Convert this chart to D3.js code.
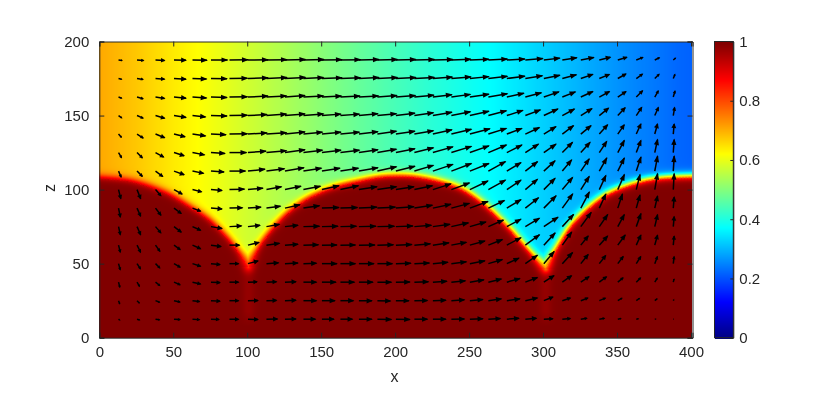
<!DOCTYPE html>
<html><head><meta charset="utf-8">
<script src="https://cdnjs.cloudflare.com/ajax/libs/d3/7.8.5/d3.min.js"></script>
<style>
html,body{margin:0;padding:0;background:#fff;width:830px;height:394px;overflow:hidden}
#wrap{position:relative;width:830px;height:394px}
canvas{position:absolute}
svg{position:absolute;left:0;top:0}
text{font-family:"Liberation Sans",Arial,sans-serif;fill:#262626}
</style></head><body><div id="wrap"></div>
<script>
// ---- data ----
const xTicks=[0,50,100,150,200,250,300,350,400];
const zTicks=[0,50,100,150,200];
const barTicks=[0,0.2,0.4,0.6,0.8,1];
const jetStops=[0,0.125,0.375,0.625,0.875,1];
const jetColors=["#000080","#0000ff","#00ffff","#ffff00","#ff0000","#800000"];
// background value of the upper region, by x
const gasX=[0,25,50,75,100,136,175,200,225,264,300,325,350,392,401];
const gasV=[0.71,0.68,0.645,0.615,0.58,0.53,0.475,0.445,0.415,0.375,0.33,0.30,0.27,0.225,0.22];
// interface arcs (red contour) between the two cusps
const arcA=[[0,107.6],[22,105.3],[45,97.5],[60.6,88.5],[74,79.5],[85.5,68.2],[94.5,57.2],[101,48]];
const arcB=[[101,48],[111,64.8],[120,76],[129,85],[140,93],[151.5,98.6],[162.7,102.5],[174,105.2],[190,108.3],[203,109],[214.6,108.3],[230,105.3],[244,100.5],[257.4,91.8],[268.7,81.7],[277.7,72.7],[286.5,62.6],[295.7,52.5],[302,47]];
const arcC=[[302,47],[309,59],[320,76],[332,88],[343,96],[356.6,102],[370,105.8],[383.6,107.6],[401,108.3]];
const cusps=[[101,48],[302,47]];
// quiver grid
const colX=[13,25.5,38,50.5,63,75.5,88,100.5,113,125.5,138,150.5,163,175.5,188,200.5,213,225.5,238,250.5,263,275.5,288,300.5,313,325.5,338,350.5,363,375.5,388];
const rowZ=[187.5,175,162.5,150,137.5,125,112.5,100,87.5,75,62.5,50,37.5,25,12.5];
const u0=[4.5,7.5,10,13,15.5,17.5,19.5,21,21.5,21.5,21.5,21,21,21,21,21,21,21,20.5,20,20,19,18.5,17,15.5,14,12,10,7.5,5.5,3];
const v0=[-.5,-.5,-.5,-.3,-.2,0,.2,.3,.4,.5,.5,.4,.4,.5,.5,.5,.5,.6,.7,.8,1,1,1.5,2,2.5,2.7,3,3,3,2.7,2.5];
const u1=[4,7,10,13,15,17,19,21,21.5,21.5,21,21,21,21,21,21,21,20.5,20.5,20,20,19,18,17,15,13,11,9,7,5,2];
const v1=[-1,-1,-.7,-.7,-.5,-.2,.3,.7,1,1.2,1,.8,.9,1,1,1,1.2,1.5,1.7,2,2.3,2.5,3,3.5,4,4.5,4.5,5,5,5,5];
const u2=[4,7,10,13,15,17,19,21,21,21,21,20.5,20.5,20.5,20.5,20.5,20.5,20,20,20,20,18,17,16,14,13,11,9,7,4,2];
const v2=[-1.5,-2,-1.5,-1.2,-1,-.5,.3,1,1.2,1.5,1.2,1,1,1.2,1.5,1.5,2,2.5,2.8,3,3.5,4,4.5,5.5,5.5,6,6,6,7,7,7];
const u3=[4,7,10,13,14,17,19,20,21,21,21,20,20,20,20,20,20,20,20,20,19,17,16,15,13,12,10,8,6,4,1.5];
const v3=[-3,-3,-3,-2,-1.5,-.5,.3,1,1.5,1.7,1.7,1.5,1.5,2,2,2.5,3,3.5,4,4.5,5,5.5,6,7,7,7.5,8,8.5,9,9,9];
const u4=[3.5,7,10,12,14,16,19,20,21,21,20,20,20,20,20,20,20,20,21,21,19,16,15,13,12,11,9,7,5,3,1];
const v4=[-4,-4.5,-4,-3,-2,-.7,.2,1.2,1.5,2.2,2,2,2,2.5,3,3,3.5,4.5,5,5.5,6,6,7,8,9,9,10,10,11,11,11];
const u5=[3.5,6,9,11,13,15,18,19,21,21,20,20,20,20,20,20,20,21,21,20,19,16,14,13,11,10,8,7,5,3,1];
const v5=[-6,-6,-5,-3.5,-2.5,-1,0,1.5,2,3,2.5,2.5,2.5,3,3.5,4,5,6,6.5,7,8,8,9,9,11,11,12,13,13,14,14];
const u6=[3,6,8,11,12,14,17,18,19,20,19,19,19,20,20,20,20,21,21,20,18,15,13,12,10,9,8,7,5,3,1];
const v6=[-7,-6,-6,-4,-2.5,-1,0,2,2.5,3.5,3,3,3,3.5,4.5,5,6,7,8,8,10,9,10,11,12,13,14,14,15,16,16];
const u7=[2.5,4,6,9,10,12,16,16,16,17,18,18,19,19,20,19,19,19,19,19,18,15,13,12,11,9,7,7,4,3,1];
const v7=[-10,-10,-7,-5,-2.5,-1,.5,1.5,3,3.5,3.5,4,4,3,3,3,4,6,7,9,10,10,11,12,13,14,15,16,16,17,17];
const u8=[2,4,6,8,9,12,14,14,15,16,17,18,18,19,19,19,19,19,19,19,17,15,14,13,11,9,7,5,4,3,1];
const v8=[-10,-9,-8,-6,-3.5,-1,.3,1,2,3.5,2.5,.7,.7,1,1,1.5,3,4,5,7,8,9,11,13,15,17,15,15,14,13,12];
const u9=[2,4,6,8,9,12,13,13,14,14,17,17,17,18,18,18,18,18,18,17,16,15,15,15,12,11,9,7,5,3,1];
const v9=[-9,-9,-7,-6,-4,-2,.8,1.5,2.5,1.5,.3,.3,.3,.3,.3,.7,1.5,2.5,4,5,7,8,9,10,13,15,13,13,14,13,11];
const u10=[2,4,5,7,9,11,11,12,14,14,16,16,16,17,17,17,17,17,16,16,15,15,15,12,10,8,9,8,5,3,1];
const v10=[-8,-8,-7,-5,-4,-1.5,0,3,2,1,.3,.2,.2,.2,.3,.7,1.5,2.5,3,4.5,6,8,11,13,14,10,10,11,11,11,10];
const u11=[2,4,5,7,9,10,10,11,13,14,14,16,16,16,16,16,16,16,16,16,15,13,13,11,11,8,7,6,5,3,1];
const v11=[-7,-6,-5,-4,-3,-1,0,3,1,.7,.5,0,0,0,0,.3,.7,1.5,2,3,4.5,6,9,13,12,10,9,8,8,8,8];
const u12=[1.5,3,5,7,9,10,10,10,11,12,14,15,15,15,15,15,15,15,15,15,14,14,13,11,10,9,8,6,5,3,1];
const v12=[-6,-5,-4,-3,-2,-.5,0,.3,.5,.5,0,0,0,0,-.2,.2,.5,1,1.5,2.5,3.5,4,5,7,7,6,6,5,5,5,4];
const u13=[1.5,3,5,7,8,10,10,11,11,12,14,14,14,14,14,14,14,14,14,14,14,14,13,10,9,8,7,5,4,3,1];
const v13=[-4,-3,-2,-1.5,-1,-.5,0,.2,.3,.4,0,0,0,-.2,-.3,-.1,.2,.5,1,1.2,2,2,3,4,3,3,3,3,3,2.5,2];
const u14=[2,3.5,5,7,8,9,10,11,12,12,13,13,13,14,15,15,14,14,14,14,13,13,12,10,9,7,6,4,3,2,.7];
const v14=[-1.5,-1,-.7,-.5,-.5,-.3,-.2,-.3,.3,.3,0,0,0,-.1,-.3,-.3,0,0,.2,.5,.8,1,1,.5,.8,1,1,.8,.7,.3,.2];
const uRows=[u0,u1,u2,u3,u4,u5,u6,u7,u8,u9,u10,u11,u12,u13,u14];
const vRows=[v0,v1,v2,v3,v4,v5,v6,v7,v8,v9,v10,v11,v12,v13,v14];

// ---- layout ----
const L=99.3,R=692.5,T=41.5,B=337.7,BL=714.5,BR=733.3;
const x=d3.scaleLinear().domain([0,401]).range([L,R]);
const z=d3.scaleLinear().domain([0,200]).range([B,T]);
const jet=d3.scaleLinear().domain(jetStops).range(jetColors).clamp(true);
const gas=d3.scaleLinear().domain(gasX).range(gasV).clamp(true);
const wrap=d3.select("#wrap");
const svg=wrap.append("svg").attr("width",830).attr("height",394);

// ---- field ----
const line=d3.line().x(d=>d[0]).y(d=>d[1]).curve(d3.curveCatmullRom);
const probe=svg.append("path").attr("fill","none");
let pts=[];
[arcA,arcB,arcC].forEach(a=>{
  probe.attr("d",line(a));
  const n=probe.node(),len=n.getTotalLength();
  for(let s=0;s<=len;s+=1){const p=n.getPointAtLength(s);pts.push([p.x,p.y]);}
});
probe.remove();
pts.sort((a,b)=>a[0]-b[0]);
const lut=d3.range(1025).map(i=>d3.rgb(jet(i/1024)));
const W=Math.round(R-L),H=Math.round(B-T);
const cv=wrap.insert("canvas","svg").attr("width",W).attr("height",H)
  .style("left",Math.round(L)+"px").style("top",Math.round(T)+"px");
const ctx=cv.node().getContext("2d");
const img=ctx.createImageData(W,H);
const hAt=d3.scaleLinear().domain(pts.map(p=>p[0])).range(pts.map(p=>p[1]));
for(let j=0;j<H;j++){
  const zv=z.invert(T+j+0.5);
  for(let i=0;i<W;i++){
    const xv=x.invert(L+i+0.5);
    const below=zv<hAt(xv);
    let d2=1e9;
    for(const p of pts){
      const dx=p[0]-xv; if(dx>25||dx<-25)continue;
      const dy=p[1]-zv,q=dx*dx+dy*dy; if(q<d2)d2=q;
    }
    let tip=1e9,cx=0,cz=0;
    for(const c of cusps){const q=(c[0]-xv)**2+(c[1]-zv)**2;if(q<tip){tip=q;cx=c[0];cz=c[1];}}
    const w=2.8+2.4*Math.exp(-tip/70);
    const dist=Math.sqrt(d2)*(below?1:-1)+0.55*2.8;
    const s=0.5*(1+Math.tanh(dist/w));
    let val=gas(xv)*(1-s)+s;
    // faint lighter streak under each cusp
    if(zv<cz&&zv>8){
      const a=Math.exp(-((xv-cx)**2)/18)*Math.min(1,(zv-8)/10);
      val-=0.02*a;
    }
    const c=lut[Math.max(0,Math.min(1024,Math.round(val*1024)))];
    const k=(j*W+i)*4;
    img.data[k]=c.r;img.data[k+1]=c.g;img.data[k+2]=c.b;img.data[k+3]=255;
  }
}
ctx.putImageData(img,0,0);

// ---- arrows ----
const arrows=[];
rowZ.forEach((zv,r)=>colX.forEach((xv,c)=>arrows.push({xv,zv,u:uRows[r][c],v:vRows[r][c]})));
const q=svg.append("g").attr("class","quiver");
const gA=q.selectAll("g").data(arrows).join("g").attr("transform",d=>{
  const a=Math.atan2(-d.v,d.u)*180/Math.PI;
  return `translate(${x(d.xv)},${z(d.zv)}) rotate(${a})`;
});
gA.append("line").attr("x1",0).attr("y1",0)
  .attr("x2",d=>Math.max(0.5,Math.hypot(d.u,d.v)-1)).attr("y2",0)
  .attr("stroke","#000").attr("stroke-width",1.5);
gA.append("path").attr("fill","#000").attr("d",d=>{
  const l=Math.hypot(d.u,d.v),h=Math.min(7,l*0.45),b=Math.min(2.6,l*0.22);
  return `M${l},0L${l-h},${-b}L${l-h},${b}Z`;
});

// ---- axes ----
function style(g){
  g.selectAll(".domain").attr("stroke","#262626").attr("stroke-width",1);
  g.selectAll("line").attr("stroke","#262626").attr("stroke-width",1);
  g.selectAll("text").attr("font-size",15).attr("font-family",'"Liberation Sans",Arial,sans-serif').attr("fill","#262626");
}
const fmt=d3.format("d");
const ax=svg.append("g").attr("transform",`translate(0,${B})`)
  .call(d3.axisBottom(x).tickValues(xTicks).tickSize(-5).tickFormat(fmt)).call(style);
ax.selectAll("text").attr("dy","0.71em").attr("y",9);
svg.append("g").attr("transform",`translate(0,${T})`)
  .call(d3.axisTop(x).tickValues(xTicks).tickSize(-5).tickFormat("")).call(style);
svg.append("g").attr("transform",`translate(${L},0)`)
  .call(d3.axisLeft(z).tickValues(zTicks).tickSize(-5).tickPadding(10).tickFormat(fmt)).call(style);
svg.append("g").attr("transform",`translate(${R},0)`)
  .call(d3.axisRight(z).tickValues(zTicks).tickSize(-5).tickFormat("")).call(style);
svg.append("text").attr("x",394.5).attr("y",382).attr("text-anchor","middle").attr("font-size",16).text("x");
svg.append("text").attr("transform","translate(55,188) rotate(-90)").attr("text-anchor","middle").attr("font-size",16).text("z");

// ---- colour bar ----
const barY=d3.scaleLinear().domain([0,1]).range([B,T]);
const steps=d3.range(0,296);
svg.append("g").attr("shape-rendering","crispEdges").selectAll("rect").data(steps).join("rect")
  .attr("x",BL).attr("width",BR-BL)
  .attr("y",d=>barY((d+1)/296)).attr("height",d=>barY(d/296)-barY((d+1)/296)+1)
  .attr("fill",d=>jet((d+0.5)/296));
svg.append("g").attr("transform",`translate(${BR},0)`)
  .call(d3.axisRight(barY).tickValues(barTicks).tickSize(-3).tickPadding(6).tickFormat(d3.format("~g"))).call(style);
svg.append("rect").attr("x",BL).attr("y",T).attr("width",BR-BL).attr("height",B-T)
  .attr("fill","none").attr("stroke","#262626").attr("stroke-width",1);
</script></body></html>
